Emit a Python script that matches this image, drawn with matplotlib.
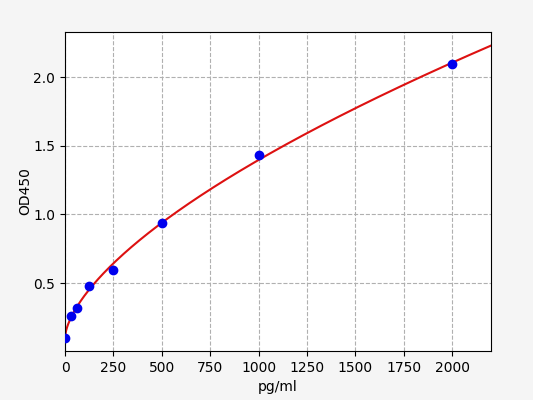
import numpy as np
import matplotlib.pyplot as plt

conc = [0, 31.25, 62.5, 125, 250, 500, 1000, 2000]
od450 = [0.102, 0.262, 0.322, 0.482, 0.597, 0.935, 1.430, 2.095]

x = np.array(conc)
y = np.array(od450)

# fit y = a + b * x**c, grid over c with linear least squares for a, b
best = None
for c in np.linspace(0.3, 1.0, 701):
    A = np.column_stack([np.ones_like(x), x ** c])
    coef, res, _, _ = np.linalg.lstsq(A, y, rcond=None)
    err = np.sum((A @ coef - y) ** 2)
    if best is None or err < best[0]:
        best = (err, coef, c)
_, (a, b), c = best

xs = np.linspace(0, 2200, 400)
ys = a + b * xs ** c

fig = plt.figure(figsize=(5.33, 4.0), dpi=100, facecolor="#f5f5f5")
ax = fig.add_axes([0.122, 0.1225, 0.799, 0.7975])
ax.plot(xs, ys, color="#dd1111", lw=1.5, zorder=2)
ax.plot(x, y, "o", color="#0000ee", ms=6, zorder=3)

ax.set_xlim(0, 2200)
ax.set_ylim(0.005, 2.33)
ax.set_xticks([0, 250, 500, 750, 1000, 1250, 1500, 1750, 2000])
ax.set_yticks([0.5, 1.0, 1.5, 2.0])
ax.grid(True, linestyle="--", color="#b0b0b0", lw=0.8)
ax.set_axisbelow(True)
ax.set_xlabel("pg/ml")
ax.set_ylabel("OD450", labelpad=0.5)

fig.savefig("out.png", dpi=100, facecolor=fig.get_facecolor())
